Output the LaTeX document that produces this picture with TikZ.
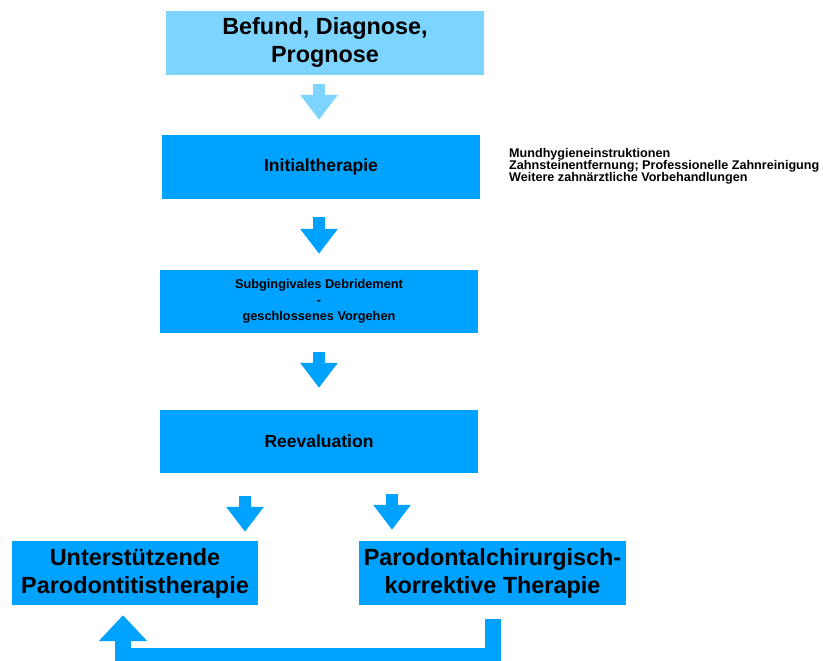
\documentclass[tikz,border=0pt]{standalone}
\usepackage{fontspec}
\setmainfont{Liberation Sans}
\usepackage{tikz}
\usepackage{xcolor}
\usetikzlibrary{arrows.meta}
\definecolor{hellblau}{HTML}{7DD5FF}
\definecolor{blau}{HTML}{00A2FF}
\begin{document}
\begin{tikzpicture}[x=1pt,y=-1pt]
      \useasboundingbox(0,0) rectangle (823,661);
      \tikzset{B/.style = {shape=rectangle, fill=blau, inner sep=0pt, text=black, align=center, font=\bfseries}}
      \tikzset{G/.style = {font=\fontsize{23.4}{28}\selectfont\bfseries}}
      \tikzset{M/.style = {font=\fontsize{17.5}{21}\selectfont\bfseries}}
      \tikzset{K/.style = {font=\fontsize{12.75}{16}\selectfont\bfseries}}
      \tikzset{P/.style = {draw=blau,line width=12pt,-{Triangle[length=25pt,width=36pt]}}}
      \tikzset{R/.style = {draw=blau,line width=16pt,-{Triangle[length=26pt,width=47pt]}}}
      \node[B,G,fill=hellblau,minimum width=318pt,minimum height=64pt](befund) at (325,43) {Befund, Diagnose,\\Prognose};
      \node[B,M,minimum width=318pt,minimum height=64pt](initial) at (321,167) {Initialtherapie};
      \node[B,K,minimum width=318pt,minimum height=63pt](debride) at (319,301.5) {Subgingivales Debridement\\-\\geschlossenes Vorgehen};
      \node[B,M,minimum width=318pt,minimum height=63pt](reeval) at (319,441.5) {Reevaluation};
      \node[B,G,minimum width=246pt,minimum height=64pt](upt) at (135,573) {Unterstützende\\Parodontitistherapie};
      \node[B,G,minimum width=267pt,minimum height=64pt](chir) at (492.5,573) {Parodontalchirurgisch-\\korrektive Therapie};
      \node[anchor=west,inner sep=0pt,align=left,font=\fontsize{12.6}{12}\selectfont\bfseries](massn) at (509,166) {Mundhygieneinstruktionen\\Zahnsteinentfernung; Professionelle Zahnreinigung\\Weitere zahnärztliche Vorbehandlungen};
      \draw[P,draw=hellblau,shorten <=9pt,shorten >=15pt]([xshift=-6pt]befund.south) to ([xshift=-2pt]initial.north);
      \draw[P,shorten <=18pt,shorten >=16pt]([xshift=-2pt]initial.south) to (debride.north);
      \draw[P,shorten <=19pt,shorten >=22pt](debride.south) to (reeval.north);
      \draw[P,shorten <=23pt,shorten >=9pt]([xshift=-74pt]reeval.south) to ([xshift=110pt]upt.north);
      \draw[P,shorten <=21pt,shorten >=11pt]([xshift=73pt]reeval.south) to ([xshift=-100.5pt]chir.north);
      \draw[R,shorten <=14pt,shorten >=10pt](chir.south) -- ++(0,51) -| ([xshift=-12pt]upt.south);
%     \draw[blau,dashed](0,661) to (823,661);
    \end{tikzpicture}
\end{document}
